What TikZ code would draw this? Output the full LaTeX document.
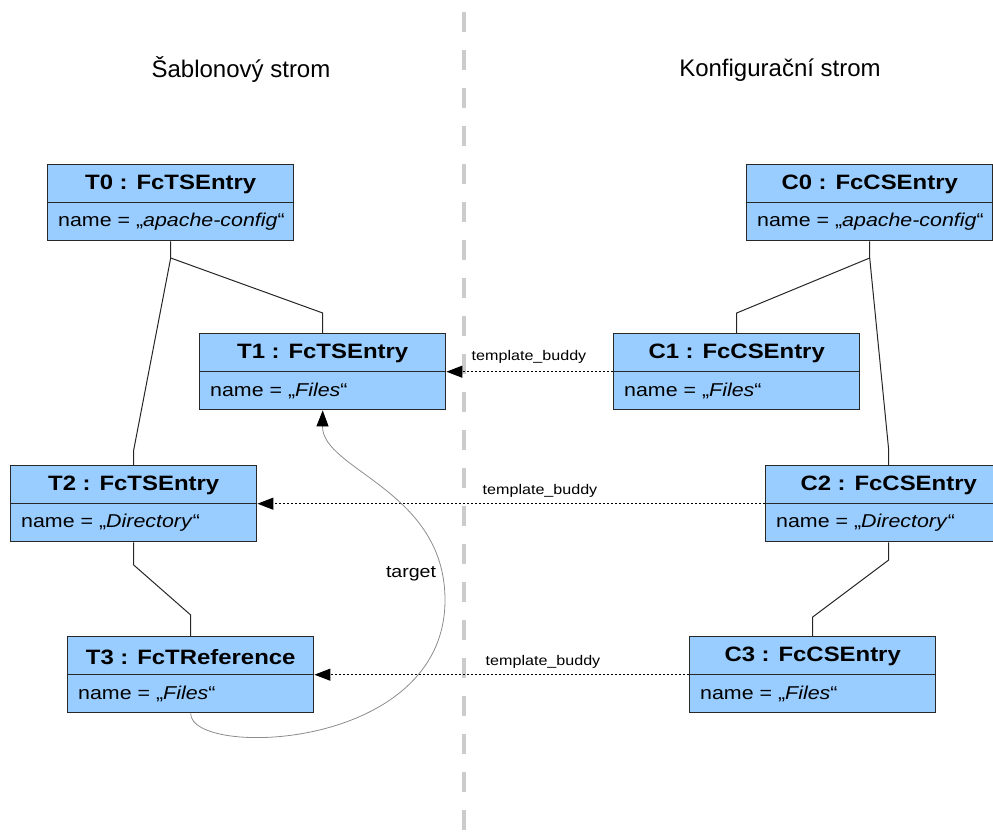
\documentclass[tikz,border=0pt]{standalone}
\usepackage{fontspec}
\setmainfont{Liberation Sans}
\newfontfamily\widesans[FakeStretch=1.15]{Liberation Sans}
\usetikzlibrary{arrows.meta,calc}

\definecolor{boxblue}{RGB}{153,204,255}
\definecolor{boxedge}{RGB}{40,40,40}
\definecolor{sepgray}{RGB}{204,204,204}
\definecolor{refgray}{RGB}{140,140,140}

\tikzset{
  umlbox/.style={draw=boxedge, line width=1.4pt, fill=boxblue, minimum width=246pt,
    minimum height=76pt, inner sep=0pt, anchor=north west},
  rule/.style={draw=boxedge, line width=1.4pt},
  objtitle/.style={inner sep=0pt, yshift=-1.5pt, font=\widesans\fontsize{20.8}{24}\selectfont\bfseries},
  objvalue/.style={inner sep=0pt, anchor=west, xshift=11pt,
    font=\widesans\fontsize{18.6}{22}\selectfont},
  treetitle/.style={inner sep=0pt, font=\fontsize{24}{28}\selectfont},
  link/.style={draw=black!85, line width=1pt},
  buddy/.style={draw=black, line width=1pt, dash pattern=on 2pt off 2pt,
    -{Triangle[length=16pt,width=12pt,color=black]}},
  buddylabel/.style={inner sep=0pt, anchor=south, font=\widesans\fontsize{14}{16}\selectfont},
  reflink/.style={draw=refgray, line width=0.8pt,
    -{Triangle[length=16pt,width=12pt,color=black,fill=black]}},
  reflabel/.style={inner sep=0pt, font=\widesans\fontsize{17}{20}\selectfont},
}

% object box: name, top-left x, top-left y, heading, value of name
\newcommand\umlobj[5]{%
  \node[umlbox] (#1) at (#2,#3) {};
  \draw[rule] (#1.west) -- (#1.east);
  \node[objtitle] (#1-title) at ($(#1.north)!0.5!(#1.center)$) {#4};
  \node[objvalue] (#1-value) at ($(#1.west)!0.5!(#1.south west)$) {name = „\textit{#5}“};
}

\begin{document}
\begin{tikzpicture}[x=1pt, y=-1pt]
  \useasboundingbox (0,0) rectangle (993,834);
  \clip (0,0) rectangle (993,834);

  % separator between the two trees
  \draw[sepgray, line width=4pt, dash pattern=on 20pt off 18pt] (464,12) -- (464,834);

  % headings
  \node[treetitle] (lefttitle) at (241,70) {Šablonový strom};
  \node[treetitle] (righttitle) at (780,70) {Konfigurační strom};

  % template tree
  \umlobj{T0}{47}{164}{T0 : FcTSEntry}{apache-config}
  \umlobj{T1}{199}{333}{T1 : FcTSEntry}{Files}
  \umlobj{T2}{10}{465}{T2 : FcTSEntry}{Directory}
  \umlobj{T3}{67}{636}{T3 : FcTReference}{Files}

  % configuration tree
  \umlobj{C0}{746}{164}{C0 : FcCSEntry}{apache-config}
  \umlobj{C1}{613}{333}{C1 : FcCSEntry}{Files}
  \umlobj{C2}{765}{465}{C2 : FcCSEntry}{Directory}
  \umlobj{C3}{689}{636}{C3 : FcCSEntry}{Files}

  % parent-child links, template tree
  \coordinate (t0j) at (T0.south |- 0,258);
  \coordinate (t1b) at (T1.north |- 0,313);
  \coordinate (t2b) at (T2.north |- 0,450);
  \coordinate (t2j) at (T2.south |- 0,565);
  \coordinate (t3b) at (T3.north |- 0,615);
  \draw[link] (T0.south) -- (t0j) -- (t1b) -- (T1.north);
  \draw[link] (t0j) -- (t2b) -- (T2.north);
  \draw[link] (T2.south) -- (t2j) -- (t3b) -- (T3.north);

  % parent-child links, configuration tree
  \coordinate (c0j) at (C0.south |- 0,258);
  \coordinate (c1b) at (C1.north |- 0,313);
  \coordinate (c2b) at (C2.north |- 0,450);
  \coordinate (c2j) at (C2.south |- 0,560);
  \coordinate (c3b) at (C3.north |- 0,617);
  \draw[link] (C0.south) -- (c0j) -- (c1b) -- (C1.north);
  \draw[link] (c0j) -- (c2b) -- (C2.north);
  \draw[link] (C2.south) -- (c2j) -- (c3b) -- (C3.north);

  % template_buddy references
  \draw[buddy] (C1.west) -- (T1.east);
  \node[buddylabel] (b1) at (529,364) {template\_buddy};
  \draw[buddy] (C2.west) -- (T2.east);
  \node[buddylabel] (b2) at (540,498) {template\_buddy};
  \draw[buddy] (C3.west) -- (T3.east);
  \node[buddylabel] (b3) at (543,669) {template\_buddy};

  % target reference of T3
  \coordinate (tgtbend) at (445,600);
  \draw[reflink] (T3.south) .. controls (190,758) and (445,752) .. (tgtbend)
    .. controls (445,490) and (322,470) .. (T1.south);
  \node[reflabel] (tgt) at (411,574) {target};
\end{tikzpicture}
\end{document}
